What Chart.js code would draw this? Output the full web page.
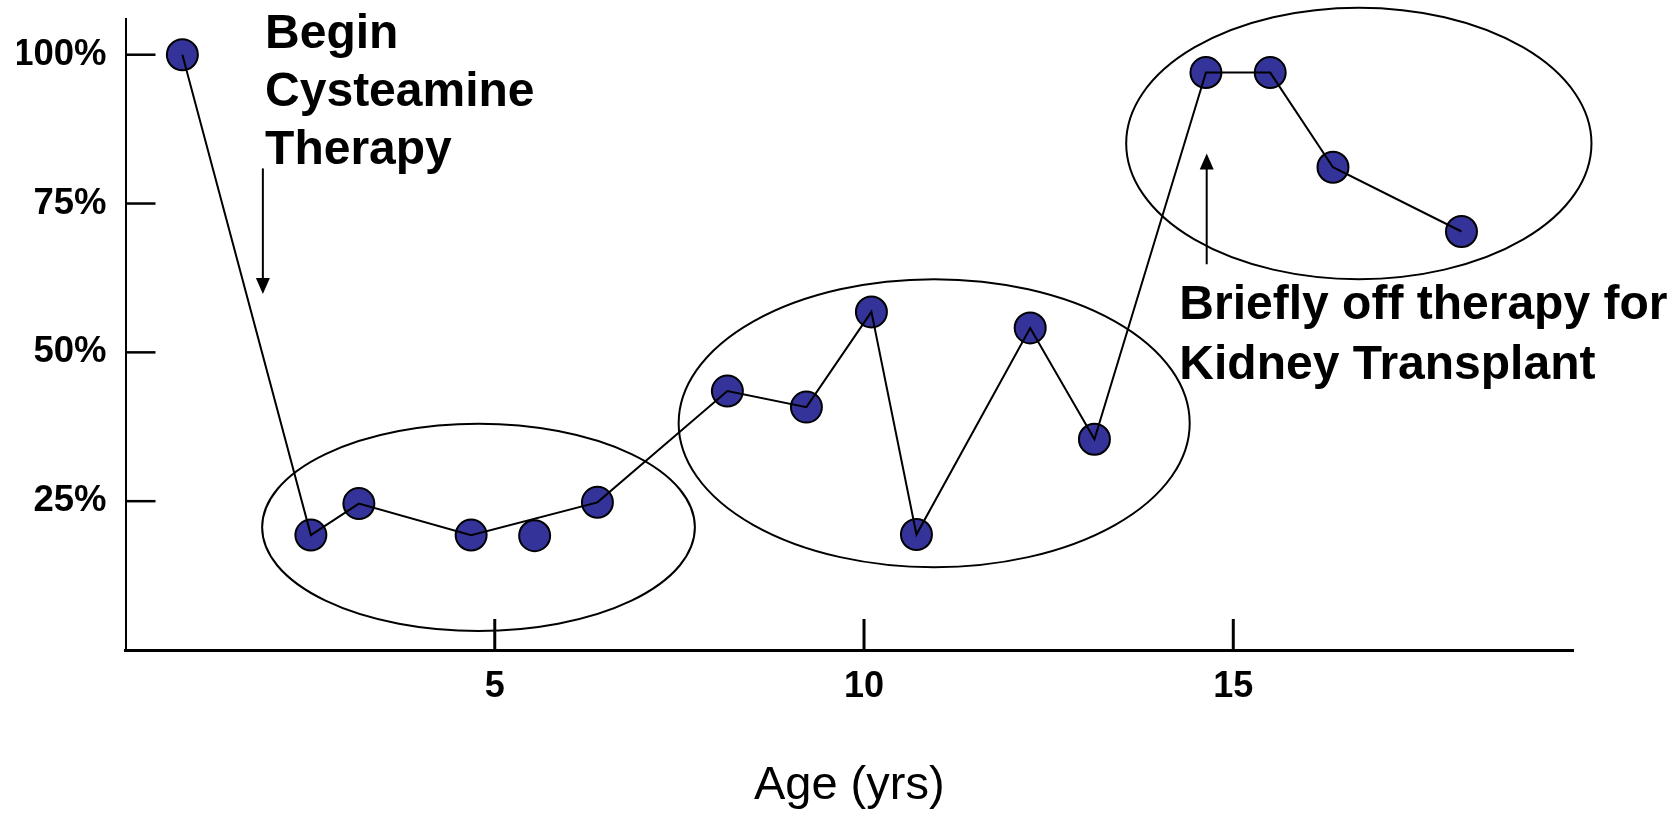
<!DOCTYPE html>
<html>
<head>
<meta charset="utf-8">
<script src="https://cdn.jsdelivr.net/npm/chart.js@4.4.1/dist/chart.umd.min.js"></script>
<style>
html, body { margin: 0; padding: 0; background: #fff; }
#wrap { width: 1680px; height: 814px; }
</style>
</head>
<body>
<div id="wrap"><canvas id="myChart"></canvas></div>
<script>
// age (years) and cystine level (% of start)
const ages    = [0.77, 2.51, 3.16, 4.68, 5.54, 6.39, 8.15, 9.22, 10.10, 10.71, 12.25, 13.12, 14.63, 15.50, 16.35, 18.09];
const levels  = [100, 19.3, 24.6, 19.3, 19.2, 24.8, 43.5, 40.8, 56.8, 19.4, 54.1, 35.4, 97.0, 97.0, 81.1, 70.3];
const joined  = [1, 1, 1, 1, 0, 1, 1, 1, 1, 1, 1, 1, 1, 1, 1, 1]; // the 5.5 yr point is not on the line
const xTicks  = [5, 10, 15];
const yTicks  = [25, 50, 75, 100];

// annotations, in data units
const groups = [
    { age: 4.78,  pct: 20.6, dAge: 2.93, dPct: 17.4 },
    { age: 10.95, pct: 38.1, dAge: 3.46, dPct: 24.2 },
    { age: 16.70, pct: 85.1, dAge: 3.15, dPct: 22.8 }
];
const arrows = [
    { age: 1.86,  from: 80.9, to: 59.8 },
    { age: 14.64, from: 64.8, to: 83.4 }
];
const notes = [
    { lines: ['Begin', 'Cysteamine', 'Therapy'], age: 1.89, pct: 101.1, step: 58 },
    { lines: ['Briefly off therapy for', 'Kidney Transplant'], age: 14.27, pct: 55.6, step: 60 }
];

const FONT = '"Liberation Sans", Arial, Helvetica, sans-serif';

const overlay = {
    id: 'overlay',
    afterDatasetsDraw(chart) {
        const ctx = chart.ctx;
        const x = chart.scales.x, y = chart.scales.y;
        ctx.save();
        ctx.strokeStyle = '#000';
        ctx.fillStyle = '#000';

        // tick marks point into the plot
        ctx.lineWidth = 2.5;
        yTicks.forEach(v => {
            const py = y.getPixelForValue(v);
            ctx.beginPath();
            ctx.moveTo(x.left, py);
            ctx.lineTo(x.left + 30, py);
            ctx.stroke();
        });
        ctx.lineWidth = 3;
        xTicks.forEach(v => {
            const px = x.getPixelForValue(v);
            ctx.beginPath();
            ctx.moveTo(px, y.bottom - 31);
            ctx.lineTo(px, y.bottom);
            ctx.stroke();
        });

        // ellipses round the groups
        ctx.lineWidth = 2;
        groups.forEach(g => {
            const cx = x.getPixelForValue(g.age);
            const cy = y.getPixelForValue(g.pct);
            const rx = x.getPixelForValue(g.age + g.dAge) - cx;
            const ry = cy - y.getPixelForValue(g.pct + g.dPct);
            ctx.beginPath();
            ctx.ellipse(cx, cy, rx, ry, 0, 0, 2 * Math.PI);
            ctx.stroke();
        });

        // arrows
        arrows.forEach(a => {
            const px = x.getPixelForValue(a.age);
            const y1 = y.getPixelForValue(a.from);
            const y2 = y.getPixelForValue(a.to);
            const dir = y2 > y1 ? 1 : -1;
            ctx.lineWidth = 2;
            ctx.beginPath();
            ctx.moveTo(px, y1);
            ctx.lineTo(px, y2 - dir * 14);
            ctx.stroke();
            ctx.beginPath();
            ctx.moveTo(px, y2);
            ctx.lineTo(px - 7, y2 - dir * 16);
            ctx.lineTo(px + 7, y2 - dir * 16);
            ctx.closePath();
            ctx.fill();
        });

        // text
        ctx.font = 'bold 48px ' + FONT;
        ctx.textAlign = 'left';
        ctx.textBaseline = 'alphabetic';
        notes.forEach(n => {
            const px = x.getPixelForValue(n.age);
            const py = y.getPixelForValue(n.pct);
            n.lines.forEach((t, i) => ctx.fillText(t, px, py + i * n.step));
        });
        ctx.restore();
    }
};

const linePoints = [];
const allPoints = [];
ages.forEach((a, i) => {
    allPoints.push({ x: a, y: levels[i] });
    if (joined[i]) linePoints.push({ x: a, y: levels[i] });
});

Chart.defaults.color = '#000';
Chart.defaults.font.family = FONT;

new Chart('myChart', {
    type: 'scatter',
    data: {
        datasets: [{
            // line goes on top of the dots
            data: linePoints,
            showLine: true,
            borderColor: '#000',
            borderWidth: 2,
            pointRadius: 0,
            pointHoverRadius: 0
        }, {
            data: allPoints,
            showLine: false,
            pointRadius: 15.5,
            pointHoverRadius: 15.5,
            backgroundColor: '#333399',
            borderColor: '#000',
            borderWidth: 2
        }]
    },
    options: {
        responsive: true,
        maintainAspectRatio: false,
        animation: false,
        events: [],
        layout: { padding: { left: 17, top: 19, right: 107, bottom: 0 } },
        plugins: {
            legend: { display: false },
            tooltip: { enabled: false }
        },
        scales: {
            x: {
                type: 'linear',
                min: 0,
                max: 19.6,
                afterBuildTicks: s => { s.ticks = xTicks.map(v => ({ value: v })); },
                afterFit: s => { s.height = 164; s.paddingLeft = 0; s.paddingRight = 0; },
                ticks: {
                    font: { size: 36, weight: 'bold' },
                    padding: 15,
                    maxRotation: 0
                },
                grid: { drawOnChartArea: false, drawTicks: false },
                border: { color: '#000', width: 3 },
                title: {
                    display: true,
                    text: 'Age (yrs)',
                    font: { size: 47 },
                    padding: { top: 40, bottom: 0 }
                }
            },
            y: {
                type: 'linear',
                min: 0,
                max: 106,
                afterBuildTicks: s => { s.ticks = yTicks.map(v => ({ value: v })); },
                afterFit: s => { s.width = 108.5; s.paddingTop = 0; s.paddingBottom = 0; },
                ticks: {
                    font: { size: 36.5, weight: 'bold' },
                    padding: 19,
                    callback: v => v + '%'
                },
                grid: { drawOnChartArea: false, drawTicks: false },
                border: { color: '#000', width: 2 }
            }
        }
    },
    plugins: [overlay]
});
</script>
</body>
</html>
